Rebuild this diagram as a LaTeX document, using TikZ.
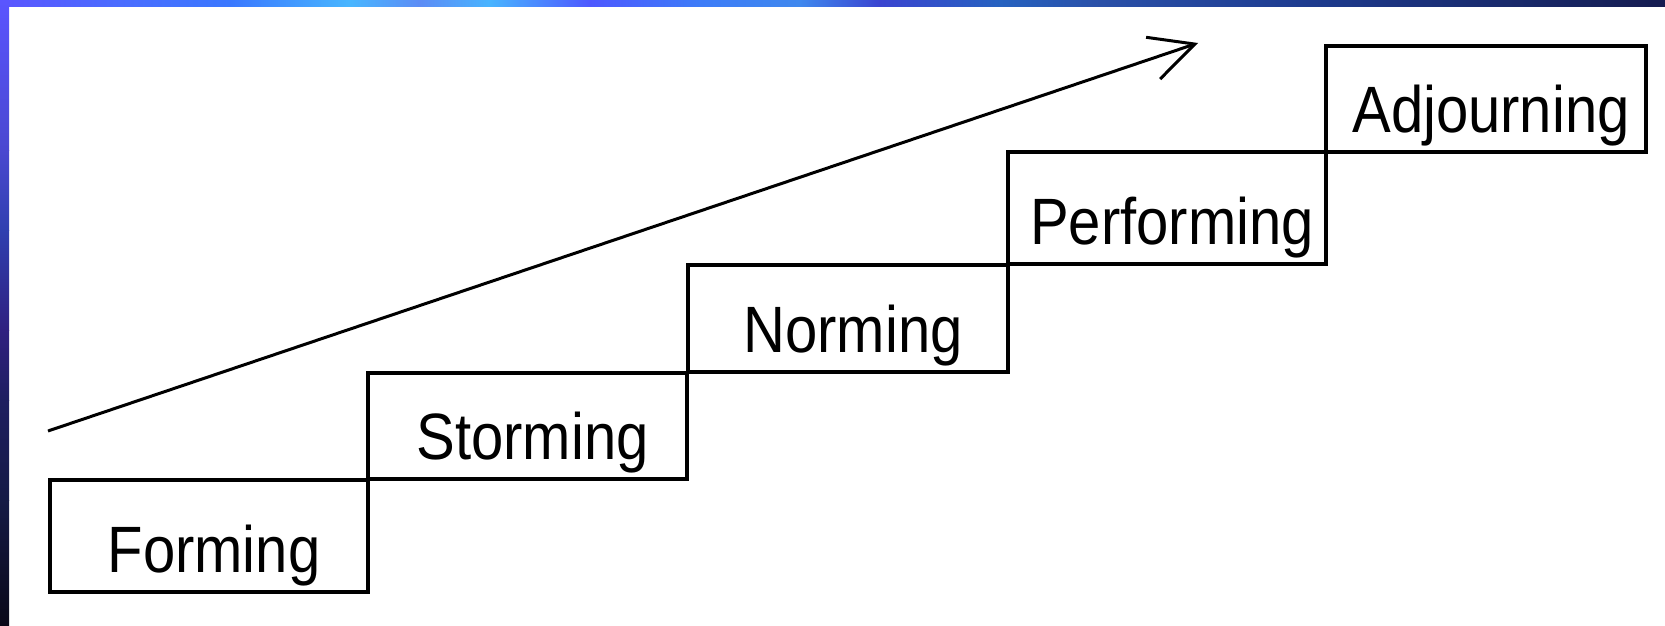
\documentclass[tikz,border=0pt]{standalone}
\usepackage{fontspec}
\setmainfont{Liberation Sans}
\usetikzlibrary{arrows.meta}
\definecolor{c0}{HTML}{5A55FF}
\definecolor{c1}{HTML}{4A6CFF}
\definecolor{c2}{HTML}{3A78FF}
\definecolor{c3}{HTML}{48B6FF}
\definecolor{c4}{HTML}{5C8CF5}
\definecolor{c5}{HTML}{48B4FF}
\definecolor{c6}{HTML}{4D58FF}
\definecolor{c7}{HTML}{3D7CF8}
\definecolor{c8}{HTML}{3F88EE}
\definecolor{c9}{HTML}{3A44D0}
\definecolor{c10}{HTML}{2662C0}
\definecolor{c11}{HTML}{2A50A8}
\definecolor{c12}{HTML}{1E3C90}
\definecolor{c13}{HTML}{151C50}
\definecolor{l1}{HTML}{4A48D0}
\definecolor{l2}{HTML}{3040B0}
\definecolor{l3}{HTML}{302080}
\definecolor{l4}{HTML}{1E1E60}
\definecolor{l5}{HTML}{151A45}
\definecolor{l6}{HTML}{0A0818}
\newcommand{\stagetxt}[1]{\scalebox{1}[1.13]{\fontsize{58}{60}\selectfont #1}}
\begin{document}
\begin{tikzpicture}[x=1pt,y=-1pt,
  stagebox/.style={draw=black, line width=4pt, rectangle, inner sep=0pt, anchor=north west},
  stagelabel/.style={anchor=base, inner sep=0pt, yshift=22pt, xshift=5pt},
  trend/.style={draw=black, line width=3pt, line join=miter, -{Straight Barb[length=44pt,width=44pt]}}]
\fill[white] (0,0) rectangle (1665,626);
\useasboundingbox (0,0) rectangle (1665,626);
% top strip
\shade[left color=c0,right color=c1] (0,0) rectangle (120,7);
\shade[left color=c1,right color=c2] (120,0) rectangle (230,7);
\shade[left color=c2,right color=c3] (230,0) rectangle (350,7);
\shade[left color=c3,right color=c4] (350,0) rectangle (420,7);
\shade[left color=c4,right color=c5] (420,0) rectangle (490,7);
\shade[left color=c5,right color=c6] (490,0) rectangle (590,7);
\shade[left color=c6,right color=c7] (590,0) rectangle (700,7);
\shade[left color=c7,right color=c8] (700,0) rectangle (800,7);
\shade[left color=c8,right color=c9] (800,0) rectangle (880,7);
\shade[left color=c9,right color=c10] (880,0) rectangle (1000,7);
\shade[left color=c10,right color=c11] (1000,0) rectangle (1100,7);
\shade[left color=c11,right color=c12] (1100,0) rectangle (1300,7);
\shade[left color=c12,right color=c13] (1300,0) rectangle (1665,7);
% left strip
\shade[top color=c0,bottom color=l1] (0,0) rectangle (9,150);
\shade[top color=l1,bottom color=l2] (0,150) rectangle (9,230);
\shade[top color=l2,bottom color=l3] (0,230) rectangle (9,330);
\shade[top color=l3,bottom color=l4] (0,330) rectangle (9,400);
\shade[top color=l4,bottom color=l5] (0,400) rectangle (9,500);
\shade[top color=l5,bottom color=l6] (0,500) rectangle (9,626);
% stages
\node[stagebox, minimum width=318pt, minimum height=112pt,
  label={[stagelabel]south:\stagetxt{Forming}}] (forming) at (48,478) {};
\node[stagebox, minimum width=319pt, minimum height=106pt,
  label={[stagelabel]south:\stagetxt{Storming}}] (storming) at (366,371) {};
\node[stagebox, minimum width=320pt, minimum height=107pt,
  label={[stagelabel]south:\stagetxt{Norming}}] (norming) at (686,263) {};
\node[stagebox, minimum width=318pt, minimum height=112pt,
  label={[stagelabel]south:\stagetxt{Performing}}] (performing) at (1006,150) {};
\node[stagebox, minimum width=320pt, minimum height=106pt,
  label={[stagelabel]south:\stagetxt{Adjourning}}] (adjourning) at (1324,44) {};
% arrow
\coordinate (arrstart) at (48,431);
\coordinate (arrend) at (1198,43);
\draw[trend] (arrstart) -- (arrend);
\end{tikzpicture}
\end{document}
